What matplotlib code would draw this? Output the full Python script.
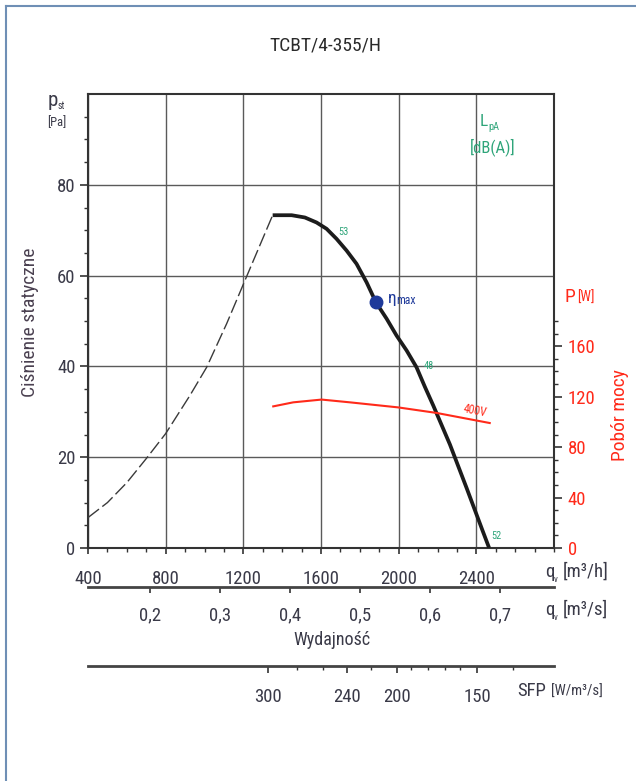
import matplotlib
matplotlib.use("Agg")
import matplotlib.pyplot as plt
from matplotlib import font_manager
from matplotlib.lines import Line2D

# ---------------- data ----------------
q_main = [1351, 1449, 1517, 1577, 1629, 1680, 1732, 1783, 1835, 1883, 1938, 1989, 2041, 2092, 2135, 2178, 2264, 2350, 2435, 2466]
p_main = [73.3, 73.3, 72.8, 71.7, 70.3, 68.1, 65.5, 62.6, 58.5, 54.1, 50.5, 46.8, 43.5, 39.8, 35.5, 31.4, 22.8, 13.2, 3.5, 0.0]

q_dash = [400, 500, 600, 702, 800, 925, 1011, 1114, 1208, 1351]
p_dash = [6.7, 10.0, 14.4, 19.8, 25.2, 33.6, 39.8, 49.4, 58.9, 73.3]

q_pow = [1354, 1457, 1603, 1749, 1997, 2195, 2469]
P_pow = [112.3, 115.5, 117.7, 115.5, 111.5, 107.1, 99.1]

eta_q, eta_p = 1883, 54.1

x_ticks = [400, 800, 1200, 1600, 2000, 2400]
y_ticks = [0, 20, 40, 60, 80]
pw_ticks = [0, 40, 80, 120, 160]
qs_ticks = [0.2, 0.3, 0.4, 0.5, 0.6, 0.7]
qs_labels = ["0,2", "0,3", "0,4", "0,5", "0,6", "0,7"]
sfp_major_labels = ["300", "240", "200", "150"]
sfp_major_pos = [1328, 1735, 1989, 2404]
sfp_minor_pos = [1474, 1611, 1857, 2066, 2152, 2238, 2315, 2589]

lpa_labels = ["53", "48", "52"]

# ---------------- fonts ----------------
avail = {f.name for f in font_manager.fontManager.ttflist}
main_font = "DejaVu Sans"
for cand in ["Liberation Sans Narrow", "Roboto Condensed", "Open Sans Condensed", "Roboto", "Liberation Sans"]:
    if cand in avail:
        main_font = cand
        break
plt.rcParams["font.family"] = [main_font, "DejaVu Sans"]

W, H = 636, 781
fig = plt.figure(figsize=(W / 100, H / 100), dpi=100)

def fx(x):
    return x / W

def fy(y):
    return 1 - y / H

TXT = "#3a3a48"
RED = "#ff2a1a"
GRN = "#2fa57a"
BLUE = "#1f3a9a"
GRID = "#5a5a5a"
TS = 13.5

# frame border
fig.add_artist(Line2D([fx(6), fx(6)], [-0.1, fy(6)], color="#6f8fb5", lw=1.5))
fig.add_artist(Line2D([fx(6), 1.1], [fy(6), fy(6)], color="#6f8fb5", lw=1.5))

ax = fig.add_axes([fx(88), fy(548), fx(554) - fx(88), fy(94) - fy(548)])
ax.set_xlim(400, 2800)
ax.set_ylim(0, 100)

ax.set_xticks(x_ticks)
ax.set_xticks(range(400, 2801, 100), minor=True)
ax.set_yticks(y_ticks)
ax.set_yticks(range(0, 100, 5), minor=True)
ax.tick_params(axis="both", which="major", labelsize=TS, colors="#333333", labelcolor=TXT, width=1.2)
ax.tick_params(axis="y", which="major", length=6, pad=3)
ax.tick_params(axis="y", which="minor", length=3, width=1.0, color="#333333")
ax.tick_params(axis="x", which="major", length=4, pad=12)
ax.tick_params(axis="x", which="minor", length=3, width=1.0, color="#333333")

for gx in list(range(400, 2801, 400)):
    ax.axvline(gx, color=GRID, lw=1.0, zorder=1)
for gy in range(20, 100, 20):
    ax.axhline(gy, color=GRID, lw=1.0, zorder=1)
for s in ax.spines.values():
    s.set_color("#333333")
    s.set_linewidth(1.5)

# curves
ax.plot(q_dash, p_dash, color="#3a3a3a", lw=1.0, dashes=(10, 3), zorder=3)
ax.plot(q_main, p_main, color="#1c1c1c", lw=2.7, solid_capstyle="butt", solid_joinstyle="round", zorder=4)
ax.plot([eta_q], [eta_p], "o", color=BLUE, ms=9, zorder=5)

ax2 = ax.twinx()
ax2.set_ylim(0, 360)
ax2.plot(q_pow, P_pow, color=RED, lw=1.5, zorder=4)
ax2.set_yticks(pw_ticks)
ax2.set_yticks([v for v in range(10, 190, 10) if v not in pw_ticks], minor=True)
ax2.tick_params(axis="y", which="major", length=6, pad=4, labelsize=TS, colors="#333333", labelcolor=RED, width=1.2)
ax2.tick_params(axis="y", which="minor", length=3, width=1.0, color="#333333")
for s in ax2.spines.values():
    s.set_visible(False)

# secondary axis m3/s
sec = ax.secondary_xaxis(-0.0852, functions=(lambda q: q / 3600.0, lambda s: s * 3600.0))
sec.set_xticks(qs_ticks, labels=qs_labels)
sec.tick_params(axis="x", which="major", length=4, width=1.2, pad=10, labelsize=TS, colors="#333333", labelcolor=TXT)
sec.tick_params(axis="x", which="minor", length=0)
sec.spines["bottom"].set_linewidth(2.0)
sec.spines["bottom"].set_color("#444444")

# SFP axis
sfp = ax.secondary_xaxis(-0.26)
sfp.set_xticks(sfp_major_pos, labels=sfp_major_labels)
sfp.set_xticks(sfp_minor_pos, minor=True)
sfp.tick_params(axis="x", which="major", length=5, width=1.2, pad=11, labelsize=TS, colors="#333333", labelcolor=TXT)
sfp.tick_params(axis="x", which="minor", length=3, width=1.0, colors="#333333")
sfp.spines["bottom"].set_linewidth(2.0)
sfp.spines["bottom"].set_color("#444444")

# ---------------- texts ----------------
fig.text(fx(325), fy(46), "TCBT/4-355/H", ha="center", va="center", fontsize=14, color="#2a2a2a")

fig.text(fx(48), fy(100), "p", ha="left", va="center", fontsize=15, color=TXT)
fig.text(fx(58), fy(106), "st", ha="left", va="center", fontsize=7, color=TXT)
fig.text(fx(47), fy(123), "[Pa]", ha="left", va="center", fontsize=9, color=TXT)
fig.text(fx(30), fy(322), "Ciśnienie statyczne", ha="center", va="center", rotation=90, fontsize=14, color="#4a4050")

fig.text(fx(480), fy(121), "L", ha="left", va="center", fontsize=12.5, color=GRN)
fig.text(fx(488), fy(127), "pA", ha="left", va="center", fontsize=7.5, color=GRN)
fig.text(fx(493), fy(147), "[dB(A)]", ha="center", va="center", fontsize=12, color=GRN)

ax.text(1943, 55.0, "η", ha="left", va="center", fontsize=12.5, color=BLUE)
ax.text(1985, 54.6, "max", ha="left", va="center", fontsize=8.5, color=BLUE)

ax.text(1687, 69.7, lpa_labels[0], ha="left", va="center", fontsize=7.5, color=GRN)
ax.text(2128, 40.0, lpa_labels[1], ha="left", va="center", fontsize=7.5, color=GRN)
ax.text(2478, 2.7, lpa_labels[2], ha="left", va="center", fontsize=7.5, color=GRN)

ax2.text(2328, 108.5, "400V", ha="left", va="center", fontsize=8.5, color=RED, rotation=-11)

fig.text(fx(565), fy(297), "P", ha="left", va="center", fontsize=14, color=RED)
fig.text(fx(577), fy(298), "[W]", ha="left", va="center", fontsize=10, color=RED)
fig.text(fx(620), fy(415), "Pobór mocy", ha="center", va="center", rotation=90, fontsize=14, color=RED)

fig.text(fx(545), fy(572), "q", ha="left", va="center", fontsize=TS, color=TXT)
fig.text(fx(554), fy(580), "v", ha="left", va="center", fontsize=6.5, color=TXT)
fig.text(fx(563), fy(572), "[m³/h]", ha="left", va="center", fontsize=TS, color=TXT)

fig.text(fx(545), fy(610), "q", ha="left", va="center", fontsize=TS, color=TXT)
fig.text(fx(554), fy(618), "v", ha="left", va="center", fontsize=6.5, color=TXT)
fig.text(fx(563), fy(610), "[m³/s]", ha="left", va="center", fontsize=TS, color=TXT)

fig.text(fx(332), fy(640), "Wydajność", ha="center", va="center", fontsize=13, color=TXT)

fig.text(fx(517), fy(691), "SFP", ha="left", va="center", fontsize=TS, color=TXT)
fig.text(fx(551), fy(692), "[W/m³/s]", ha="left", va="center", fontsize=10.5, color=TXT)

fig.savefig("out.png", dpi=100)
